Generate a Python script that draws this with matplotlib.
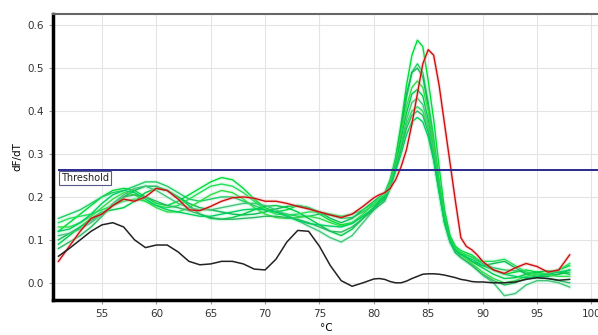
import matplotlib.pyplot as plt

# temperature grid (finer around the melt peak)
temps = list(range(51, 81)) + [80.5 + 0.5 * i for i in range(20)] + list(range(91, 99))

black = [0.062, 0.08, 0.10, 0.12, 0.135, 0.14, 0.13, 0.10, 0.082, 0.088,
         0.088, 0.072, 0.05, 0.042, 0.044, 0.05, 0.05, 0.044, 0.032, 0.03,
         0.055, 0.095, 0.122, 0.12, 0.085, 0.04, 0.005, -0.008, 0.0, 0.009,
         0.01, 0.008, 0.003, 0.0, 0.0, 0.004, 0.01, 0.015, 0.02, 0.021,
         0.021, 0.02, 0.018, 0.015, 0.012, 0.008, 0.006, 0.003, 0.002, 0.002,
         0.0, 0.0, 0.002, 0.008, 0.012, 0.01, 0.006, 0.008]

red = [0.05, 0.085, 0.12, 0.15, 0.16, 0.18, 0.195, 0.19, 0.2, 0.22,
       0.215, 0.195, 0.17, 0.168, 0.178, 0.19, 0.198, 0.2, 0.197, 0.19,
       0.19, 0.185, 0.178, 0.172, 0.165, 0.158, 0.152, 0.16, 0.178, 0.198,
       0.205, 0.21, 0.22, 0.24, 0.27, 0.31, 0.37, 0.44, 0.51, 0.543,
       0.53, 0.46, 0.37, 0.28, 0.19, 0.105, 0.085, 0.077, 0.065, 0.05,
       0.03, 0.022, 0.035, 0.045, 0.038, 0.025, 0.03, 0.065]

greens = [
    [0.12, 0.14, 0.16, 0.18, 0.2, 0.215, 0.22, 0.215, 0.2, 0.185,
     0.18, 0.19, 0.205, 0.22, 0.235, 0.245, 0.24, 0.22, 0.195, 0.175,
     0.165, 0.17, 0.18, 0.175, 0.16, 0.145, 0.135, 0.14, 0.155, 0.175,
     0.19, 0.205, 0.23, 0.29, 0.37, 0.46, 0.53, 0.565, 0.55, 0.47,
     0.38, 0.27, 0.17, 0.11, 0.085, 0.075, 0.07, 0.065, 0.055, 0.045,
     0.03, 0.02, 0.025, 0.03, 0.025, 0.02, 0.03, 0.04],
    [0.15, 0.16, 0.17, 0.185, 0.2, 0.21, 0.215, 0.225, 0.235, 0.235,
     0.225, 0.21, 0.195, 0.19, 0.195, 0.2, 0.2, 0.19, 0.18, 0.17,
     0.165, 0.16, 0.155, 0.155, 0.16, 0.158, 0.15, 0.152, 0.165, 0.18,
     0.19, 0.2, 0.225, 0.28, 0.35, 0.43, 0.49, 0.51, 0.49, 0.42,
     0.34, 0.24, 0.155, 0.105, 0.08, 0.07, 0.065, 0.06, 0.052, 0.045,
     0.035, 0.03, 0.028, 0.025, 0.02, 0.018, 0.02, 0.025],
    [0.1, 0.115, 0.13, 0.145, 0.16, 0.18, 0.2, 0.215, 0.225, 0.225,
     0.215, 0.2, 0.185, 0.175, 0.17, 0.165, 0.16, 0.158, 0.16, 0.165,
     0.172, 0.178, 0.18, 0.175, 0.165, 0.15, 0.14, 0.15, 0.17, 0.19,
     0.2, 0.21, 0.24, 0.29, 0.36, 0.44, 0.49, 0.5, 0.48, 0.41,
     0.32, 0.23, 0.15, 0.1, 0.078, 0.068, 0.06, 0.05, 0.045, 0.04,
     0.045, 0.05, 0.035, 0.02, 0.015, 0.015, 0.02, 0.03],
    [0.13, 0.13, 0.14, 0.155, 0.175, 0.195, 0.21, 0.205, 0.19, 0.175,
     0.165, 0.165, 0.175, 0.19, 0.205, 0.215, 0.21, 0.195, 0.175, 0.16,
     0.152, 0.15, 0.152, 0.155, 0.15, 0.14, 0.132, 0.14, 0.16, 0.185,
     0.195, 0.205, 0.235, 0.285, 0.35, 0.41, 0.455, 0.47, 0.455, 0.4,
     0.32, 0.23, 0.15, 0.1, 0.075, 0.065, 0.055, 0.045, 0.035, 0.025,
     0.01, 0.0, 0.005, 0.015, 0.02, 0.018, 0.015, 0.015],
    [0.09, 0.11, 0.13, 0.15, 0.165, 0.17, 0.175, 0.19, 0.21, 0.22,
     0.215, 0.2, 0.18, 0.16, 0.15, 0.148, 0.152, 0.16, 0.17, 0.178,
     0.18, 0.175, 0.165, 0.15, 0.135, 0.12, 0.11, 0.125, 0.15, 0.175,
     0.19, 0.2, 0.23, 0.275, 0.335, 0.395, 0.44, 0.45, 0.435, 0.38,
     0.3, 0.22, 0.145, 0.1, 0.078, 0.068, 0.06, 0.05, 0.042, 0.035,
     0.02, 0.01, 0.012, 0.02, 0.025, 0.028, 0.025, 0.02],
    [0.11, 0.115, 0.125, 0.14, 0.16, 0.185, 0.205, 0.22, 0.225, 0.215,
     0.2, 0.185, 0.175, 0.17, 0.17, 0.175, 0.18, 0.185, 0.185, 0.18,
     0.17, 0.158, 0.145, 0.132, 0.12, 0.105, 0.095, 0.11, 0.14, 0.17,
     0.185, 0.195, 0.225, 0.27, 0.32, 0.38, 0.42, 0.43, 0.415, 0.37,
     0.3, 0.215, 0.14, 0.095, 0.07, 0.058, 0.05, 0.042, 0.03, 0.018,
     0.0, -0.03, -0.025, -0.005, 0.005, 0.005, 0.0, -0.01],
    [0.14, 0.15, 0.155, 0.16, 0.17, 0.18, 0.19, 0.195, 0.19, 0.18,
     0.175, 0.18, 0.195, 0.21, 0.225, 0.23, 0.225, 0.21, 0.19, 0.17,
     0.16, 0.158, 0.16, 0.165, 0.165, 0.16, 0.155, 0.16, 0.17, 0.185,
     0.195, 0.205, 0.23, 0.27, 0.32, 0.37, 0.4, 0.41, 0.4, 0.36,
     0.29, 0.215, 0.14, 0.1, 0.08, 0.07, 0.065, 0.06, 0.055, 0.05,
     0.05, 0.055, 0.04, 0.025, 0.02, 0.022, 0.03, 0.045],
    [0.08, 0.095, 0.11, 0.13, 0.155, 0.18, 0.2, 0.205, 0.2, 0.19,
     0.18, 0.175, 0.168, 0.16, 0.152, 0.148, 0.148, 0.15, 0.152, 0.155,
     0.155, 0.152, 0.148, 0.14, 0.13, 0.12, 0.118, 0.13, 0.15, 0.17,
     0.18, 0.19, 0.22, 0.265, 0.31, 0.36, 0.39, 0.4, 0.39, 0.35,
     0.29, 0.215, 0.14, 0.095, 0.07, 0.06, 0.05, 0.04, 0.03, 0.02,
     0.005, -0.005, 0.0, 0.01, 0.012, 0.01, 0.005, 0.0],
    [0.12, 0.125, 0.14, 0.16, 0.185, 0.205, 0.215, 0.21, 0.195, 0.18,
     0.17, 0.165, 0.16, 0.155, 0.155, 0.16, 0.165, 0.17, 0.172, 0.17,
     0.165, 0.155, 0.145, 0.138, 0.135, 0.132, 0.13, 0.138, 0.155, 0.175,
     0.185, 0.195, 0.22, 0.26, 0.3, 0.345, 0.375, 0.385, 0.375, 0.34,
     0.285, 0.21, 0.14, 0.098, 0.075, 0.065, 0.06, 0.055, 0.048, 0.04,
     0.03, 0.02, 0.015, 0.012, 0.015, 0.02, 0.025, 0.03],
]
green_colors = ['#00dd33', '#22cc66', '#11bb55', '#33dd44', '#00cc44',
                '#44c47a', '#22e055', '#2bb860', '#00d060']

threshold = 0.263
x_ticks = [55, 60, 65, 70, 75, 80, 85, 90, 95, 100]
y_ticks = [0.0, 0.1, 0.2, 0.3, 0.4, 0.5, 0.6]

fig = plt.figure(figsize=(5.98, 3.35), dpi=100)
ax = fig.add_axes([53 / 598, 35 / 335, 546 / 598, 286 / 335])

ax.grid(True, color='#e4e4e4', linewidth=0.8)
ax.set_axisbelow(True)

for vals, col in zip(greens, green_colors):
    ax.plot(temps, vals, color='#aaf5cc', linewidth=3, alpha=0.35, zorder=2)
    ax.plot(temps, vals, color=col, linewidth=1.0, zorder=3)
ax.plot(temps, red, color='#f0a0a0', linewidth=2.5, alpha=0.35, zorder=3)
ax.plot(temps, red, color='#cc1010', linewidth=1.0, zorder=4)
ax.plot(temps, black, color='#222222', linewidth=1.1, zorder=5)

ax.hlines(threshold, 51.0, 101, color='#2a2a90', linewidth=1.4, zorder=6)
ax.text(51.2, threshold - 0.007, 'Threshold', fontsize=7, va='top', ha='left',
        color='#222222', zorder=7,
        bbox=dict(boxstyle='square,pad=0.2', facecolor='white',
                  edgecolor='#5a5a8a', linewidth=0.8))

ax.set_xlim(50.5, 100.7)
ax.set_ylim(-0.04, 0.626)
ax.set_xticks(x_ticks)
ax.set_yticks(y_ticks)
ax.set_yticklabels(['%.1f' % v for v in y_ticks])
ax.tick_params(axis='both', labelsize=7.5, colors='#333333', length=3,
               color='#999999', width=0.8)

ax.spines['left'].set_linewidth(2.5)
ax.spines['bottom'].set_linewidth(2.5)
ax.spines['left'].set_color('black')
ax.spines['bottom'].set_color('black')
ax.spines['top'].set_color('#666666')
ax.spines['top'].set_linewidth(1.5)
ax.spines['right'].set_visible(False)

ax.set_ylabel('dF/dT', fontsize=7.5, labelpad=4)
ax.set_xlabel('°C', fontsize=7.5, labelpad=3)

fig.savefig('out.png', dpi=100)
